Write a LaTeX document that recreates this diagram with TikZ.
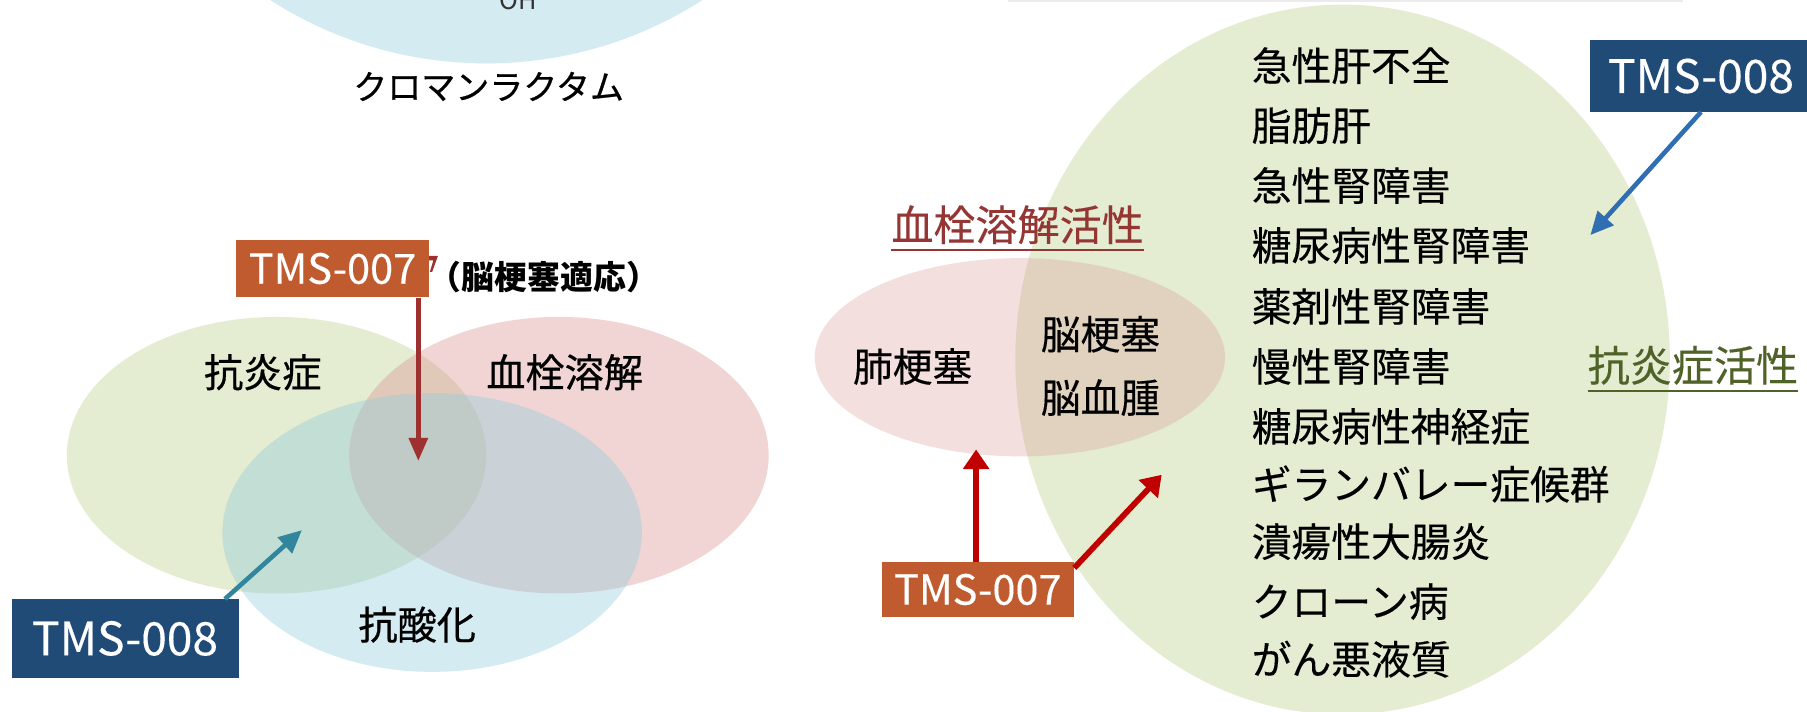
\documentclass[tikz,border=0pt]{standalone}
\usepackage{fontspec}
\setmainfont{Noto Sans CJK JP}
\newfontfamily\jpheavy[FakeBold=0.6]{Noto Sans CJK JP}
\newfontfamily\jpmid[FakeBold=0.3]{Noto Sans CJK JP}
\usetikzlibrary{arrows.meta}
\definecolor{vgreen}{HTML}{C4D79B}
\definecolor{vpink}{HTML}{DA9694}
\definecolor{vblue}{HTML}{92CDDC}
\definecolor{tmsorange}{HTML}{BF5B2E}
\definecolor{tmsnavy}{HTML}{214B77}
\definecolor{darkred}{HTML}{9E3030}
\definecolor{brightred}{HTML}{C00000}
\definecolor{tealarrow}{HTML}{31859C}
\definecolor{bluearrow}{HTML}{2F6EB0}
\definecolor{titlered}{HTML}{943634}
\definecolor{titlegreen}{HTML}{4F6228}
\begin{document}
\begin{tikzpicture}[x=1pt,y=-1pt,
  lbl/.style={font=\jpheavy\fontsize{34}{34}\selectfont, inner sep=0pt},
  item/.style={font=\jpmid\fontsize{34.5}{34.5}\selectfont, inner sep=0pt, anchor=west},
  ttl/.style={font=\jpmid\fontsize{36.5}{36.5}\selectfont, inner sep=0pt},
  boxseven/.style={fill=tmsorange, text=white, font=\jpmid\fontsize{36}{36}\selectfont, minimum width=167pt, minimum height=50pt, inner sep=0pt},
  boxeight/.style={fill=tmsnavy, text=white, font=\jpmid\fontsize{40}{40}\selectfont, inner sep=0pt},
  redarrow/.style={draw=brightred, line width=5pt, -{Triangle[length=17pt,width=22pt]}},
]
\useasboundingbox (0,0) rectangle (1568,617);
\clip (0,0) rectangle (1568,617);
\fill[white] (0,0) rectangle (1568,617);

% faint line at top right
\fill[black!8] (875,0) rectangle (1460,2);

% top partial circle
\fill[vblue, fill opacity=0.4] (422,-292) circle (347pt);
\node[font=\fontsize{22}{22}\selectfont, text=black!80, inner sep=0pt] (oh) at (450,0) {OH};
\node[font=\jpheavy\fontsize{29.5}{29.5}\selectfont, inner sep=0pt] (cl) at (424,75) {クロマンラクタム};

% left Venn
\fill[vgreen, fill opacity=0.45] (240,395) ellipse [x radius=182pt, y radius=120pt];
\fill[vpink, fill opacity=0.4] (485,395) ellipse [x radius=182pt, y radius=120pt];
\fill[vblue, fill opacity=0.4] (375,462) ellipse [x radius=182pt, y radius=121pt];
\node[lbl] (aninf) at (228,323) {抗炎症};
\node[lbl] (thromb) at (490,323) {血栓溶解};
\node[lbl] (antiox) at (362,542) {抗酸化};

\node[font=\bfseries\fontsize{28.5}{28.5}\selectfont, inner sep=0pt, anchor=west] (indic) at (372,240) {（脳梗塞適応）};
\fill[darkred] (371,222) -- (380,222) -- (375,236) -- (373,236) -- (376,226) -- (371,226) -- cycle;
\node[boxseven] (b7l) at (288.5,233) {TMS-007};
\coordinate (c7l) at (363,400);
\draw[darkred, line width=4pt, -{Triangle[length=20pt,width=16pt]}] (b7l.south -| c7l) -- (c7l);

\node[boxeight, minimum width=197pt, minimum height=68pt] (b8l) at (108.5,554) {TMS-008};
\coordinate (c8l) at (262,460);
\draw[tealarrow, line width=4pt, -{Triangle[length=20pt,width=18pt]}] ([xshift=-12pt]b8l.north east) -- (c8l);

% right diagram
\fill[vgreen, fill opacity=0.45] (1165,312) ellipse [x radius=284pt, y radius=308pt];
\fill[vpink, fill opacity=0.3] (885,310) ellipse [x radius=178pt, y radius=86pt];

\node[ttl, text=titlered] (tt1) at (883,195) {血栓溶解活性};
\draw[titlered, line width=1.8pt] ([yshift=-5pt]tt1.south west) -- ([yshift=-5pt]tt1.south east);
\node[ttl, text=titlegreen] (tt2) at (1469,317) {抗炎症活性};
\draw[titlegreen, line width=1.8pt] ([yshift=-5pt]tt2.south west) -- ([yshift=-5pt]tt2.south east);

\node[item] (haik) at (740,318) {肺梗塞};
\node[item] (nouk) at (903,290) {脳梗塞};
\node[item] (noue) at (903,345) {脳血腫};

\node[item] (i1) at (1086,57) {急性肝不全};
\node[item] (i2) at (1086,109) {脂肪肝};
\node[item] (i3) at (1086,161) {急性腎障害};
\node[item] (i4) at (1086,213) {糖尿病性腎障害};
\node[item] (i5) at (1086,266) {薬剤性腎障害};
\node[item] (i6) at (1086,318) {慢性腎障害};
\node[item] (i7) at (1086,370) {糖尿病性神経症};
\node[item] (i8) at (1086,420) {ギランバレー症候群};
\node[item] (i9) at (1086,470) {潰瘍性大腸炎};
\node[item] (i10) at (1086,522) {クローン病};
\node[item] (i11) at (1086,572) {がん悪液質};

\node[boxseven, minimum height=47pt] (b7r) at (848.5,511.5) {TMS-007};
\coordinate (c7a) at (847,390);
\coordinate (c7b) at (1008,412);
\draw[redarrow] (b7r.north -| c7a) -- (c7a);
\draw[redarrow] ([yshift=-5pt]b7r.north east) -- (c7b);

\node[boxeight, minimum width=192pt, minimum height=62pt] (b8r) at (1476,66) {TMS-008};
\coordinate (c8r) at (1380,204);
\draw[bluearrow, line width=4pt, -{Triangle[length=20pt,width=18pt]}] (b8r.south) -- (c8r);
\end{tikzpicture}
\end{document}
